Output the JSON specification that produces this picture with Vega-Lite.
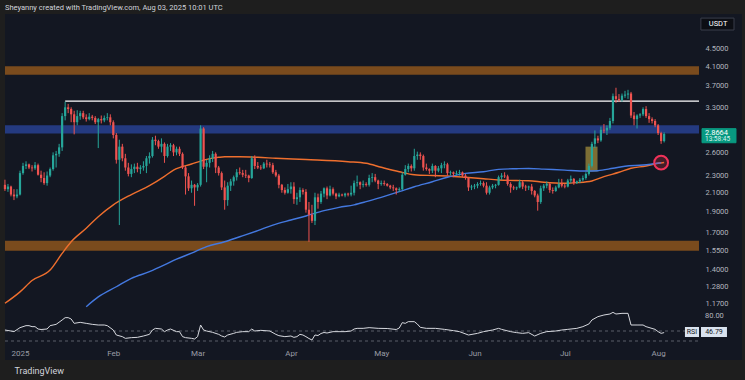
{
"$schema": "https://vega.github.io/schema/vega-lite/v6.json",
"width": 737, "height": 346,
"autosize": {"type": "none"},
"padding": {"left": 5, "top": 14, "right": 3, "bottom": 20},
"background": "#1e1e1e",
"config": {"view": {"fill": "#131722", "stroke": null}, "font": "Roboto"},
"title": {"text": "Sheyanny created with TradingView.com, Aug 03, 2025 10:01 UTC", "anchor": "start", "frame": "group", "orient": "top", "offset": 3, "dy": 8, "baseline": "bottom", "fontSize": 7.5, "fontWeight": "normal", "color": "#d1d4dc", "font": "Roboto"},
"datasets": {
"candles": [
{"d":"2024-12-27","o":2.19,"h":2.25,"l":2.12,"c":2.14},
{"d":"2024-12-28","o":2.14,"h":2.20,"l":2.11,"c":2.17},
{"d":"2024-12-29","o":2.17,"h":2.18,"l":2.06,"c":2.08},
{"d":"2024-12-30","o":2.08,"h":2.14,"l":2.02,"c":2.06},
{"d":"2024-12-31","o":2.06,"h":2.14,"l":2.04,"c":2.08},
{"d":"2025-01-01","o":2.08,"h":2.36,"l":2.07,"c":2.33},
{"d":"2025-01-02","o":2.33,"h":2.46,"l":2.31,"c":2.42},
{"d":"2025-01-03","o":2.42,"h":2.48,"l":2.38,"c":2.44},
{"d":"2025-01-04","o":2.44,"h":2.45,"l":2.38,"c":2.40},
{"d":"2025-01-05","o":2.40,"h":2.43,"l":2.35,"c":2.39},
{"d":"2025-01-06","o":2.39,"h":2.47,"l":2.37,"c":2.43},
{"d":"2025-01-07","o":2.43,"h":2.45,"l":2.30,"c":2.31},
{"d":"2025-01-08","o":2.31,"h":2.36,"l":2.22,"c":2.27},
{"d":"2025-01-09","o":2.27,"h":2.34,"l":2.19,"c":2.21},
{"d":"2025-01-10","o":2.21,"h":2.35,"l":2.18,"c":2.30},
{"d":"2025-01-11","o":2.30,"h":2.40,"l":2.28,"c":2.38},
{"d":"2025-01-12","o":2.38,"h":2.60,"l":2.36,"c":2.56},
{"d":"2025-01-13","o":2.56,"h":2.62,"l":2.40,"c":2.58},
{"d":"2025-01-14","o":2.58,"h":2.72,"l":2.54,"c":2.67},
{"d":"2025-01-15","o":2.67,"h":3.20,"l":2.62,"c":3.15},
{"d":"2025-01-16","o":3.15,"h":3.40,"l":3.08,"c":3.30},
{"d":"2025-01-17","o":3.30,"h":3.36,"l":3.20,"c":3.27},
{"d":"2025-01-18","o":3.27,"h":3.30,"l":3.05,"c":3.18},
{"d":"2025-01-19","o":3.18,"h":3.24,"l":2.86,"c":3.05},
{"d":"2025-01-20","o":3.05,"h":3.25,"l":3.00,"c":3.15},
{"d":"2025-01-21","o":3.15,"h":3.24,"l":3.09,"c":3.20},
{"d":"2025-01-22","o":3.20,"h":3.24,"l":3.10,"c":3.13},
{"d":"2025-01-23","o":3.13,"h":3.18,"l":3.06,"c":3.10},
{"d":"2025-01-24","o":3.10,"h":3.20,"l":3.08,"c":3.14},
{"d":"2025-01-25","o":3.14,"h":3.17,"l":3.08,"c":3.12},
{"d":"2025-01-26","o":3.12,"h":3.15,"l":3.02,"c":3.05},
{"d":"2025-01-27","o":3.05,"h":3.12,"l":2.66,"c":3.10},
{"d":"2025-01-28","o":3.10,"h":3.16,"l":3.03,"c":3.08},
{"d":"2025-01-29","o":3.08,"h":3.16,"l":3.05,"c":3.12},
{"d":"2025-01-30","o":3.12,"h":3.20,"l":3.08,"c":3.13},
{"d":"2025-01-31","o":3.13,"h":3.18,"l":3.00,"c":3.05},
{"d":"2025-02-01","o":3.05,"h":3.08,"l":2.80,"c":2.85},
{"d":"2025-02-02","o":2.85,"h":2.88,"l":2.45,"c":2.50},
{"d":"2025-02-03","o":2.50,"h":2.78,"l":1.77,"c":2.68},
{"d":"2025-02-04","o":2.68,"h":2.72,"l":2.48,"c":2.52},
{"d":"2025-02-05","o":2.52,"h":2.58,"l":2.36,"c":2.40},
{"d":"2025-02-06","o":2.40,"h":2.46,"l":2.29,"c":2.32},
{"d":"2025-02-07","o":2.32,"h":2.44,"l":2.28,"c":2.38},
{"d":"2025-02-08","o":2.38,"h":2.45,"l":2.33,"c":2.41},
{"d":"2025-02-09","o":2.41,"h":2.46,"l":2.34,"c":2.38},
{"d":"2025-02-10","o":2.38,"h":2.43,"l":2.32,"c":2.40},
{"d":"2025-02-11","o":2.40,"h":2.48,"l":2.36,"c":2.42},
{"d":"2025-02-12","o":2.42,"h":2.55,"l":2.33,"c":2.52},
{"d":"2025-02-13","o":2.52,"h":2.60,"l":2.45,"c":2.55},
{"d":"2025-02-14","o":2.55,"h":2.82,"l":2.53,"c":2.78},
{"d":"2025-02-15","o":2.78,"h":2.84,"l":2.70,"c":2.76},
{"d":"2025-02-16","o":2.76,"h":2.78,"l":2.65,"c":2.68},
{"d":"2025-02-17","o":2.68,"h":2.80,"l":2.60,"c":2.72},
{"d":"2025-02-18","o":2.72,"h":2.74,"l":2.46,"c":2.55},
{"d":"2025-02-19","o":2.55,"h":2.72,"l":2.53,"c":2.68},
{"d":"2025-02-20","o":2.68,"h":2.73,"l":2.62,"c":2.70},
{"d":"2025-02-21","o":2.70,"h":2.72,"l":2.55,"c":2.60},
{"d":"2025-02-22","o":2.60,"h":2.68,"l":2.56,"c":2.65},
{"d":"2025-02-23","o":2.65,"h":2.68,"l":2.55,"c":2.58},
{"d":"2025-02-24","o":2.58,"h":2.60,"l":2.38,"c":2.40},
{"d":"2025-02-25","o":2.40,"h":2.42,"l":2.08,"c":2.29},
{"d":"2025-02-26","o":2.29,"h":2.33,"l":2.12,"c":2.15},
{"d":"2025-02-27","o":2.15,"h":2.24,"l":2.10,"c":2.19},
{"d":"2025-02-28","o":2.19,"h":2.20,"l":1.96,"c":2.16},
{"d":"2025-03-01","o":2.16,"h":2.21,"l":2.12,"c":2.19},
{"d":"2025-03-02","o":2.19,"h":3.00,"l":2.17,"c":2.95},
{"d":"2025-03-03","o":2.95,"h":2.97,"l":2.38,"c":2.41},
{"d":"2025-03-04","o":2.41,"h":2.50,"l":2.22,"c":2.46},
{"d":"2025-03-05","o":2.46,"h":2.56,"l":2.40,"c":2.52},
{"d":"2025-03-06","o":2.52,"h":2.62,"l":2.47,"c":2.58},
{"d":"2025-03-07","o":2.58,"h":2.60,"l":2.33,"c":2.40},
{"d":"2025-03-08","o":2.40,"h":2.42,"l":2.30,"c":2.33},
{"d":"2025-03-09","o":2.33,"h":2.35,"l":2.13,"c":2.16},
{"d":"2025-03-10","o":2.16,"h":2.24,"l":1.92,"c":2.02},
{"d":"2025-03-11","o":2.02,"h":2.22,"l":1.96,"c":2.18},
{"d":"2025-03-12","o":2.18,"h":2.26,"l":2.12,"c":2.23},
{"d":"2025-03-13","o":2.23,"h":2.30,"l":2.18,"c":2.28},
{"d":"2025-03-14","o":2.28,"h":2.38,"l":2.24,"c":2.34},
{"d":"2025-03-15","o":2.34,"h":2.40,"l":2.31,"c":2.33},
{"d":"2025-03-16","o":2.33,"h":2.37,"l":2.28,"c":2.31},
{"d":"2025-03-17","o":2.31,"h":2.37,"l":2.27,"c":2.30},
{"d":"2025-03-18","o":2.30,"h":2.31,"l":2.22,"c":2.27},
{"d":"2025-03-19","o":2.27,"h":2.55,"l":2.26,"c":2.52},
{"d":"2025-03-20","o":2.52,"h":2.56,"l":2.38,"c":2.42},
{"d":"2025-03-21","o":2.42,"h":2.47,"l":2.38,"c":2.40},
{"d":"2025-03-22","o":2.40,"h":2.43,"l":2.37,"c":2.39},
{"d":"2025-03-23","o":2.39,"h":2.47,"l":2.38,"c":2.45},
{"d":"2025-03-24","o":2.45,"h":2.50,"l":2.40,"c":2.44},
{"d":"2025-03-25","o":2.44,"h":2.47,"l":2.40,"c":2.43},
{"d":"2025-03-26","o":2.43,"h":2.46,"l":2.32,"c":2.34},
{"d":"2025-03-27","o":2.34,"h":2.37,"l":2.28,"c":2.30},
{"d":"2025-03-28","o":2.30,"h":2.32,"l":2.15,"c":2.19},
{"d":"2025-03-29","o":2.19,"h":2.20,"l":2.10,"c":2.13},
{"d":"2025-03-30","o":2.13,"h":2.16,"l":2.08,"c":2.10},
{"d":"2025-03-31","o":2.10,"h":2.20,"l":2.09,"c":2.14},
{"d":"2025-04-01","o":2.14,"h":2.22,"l":2.09,"c":2.17},
{"d":"2025-04-02","o":2.17,"h":2.22,"l":1.98,"c":2.03},
{"d":"2025-04-03","o":2.03,"h":2.10,"l":1.97,"c":2.05},
{"d":"2025-04-04","o":2.05,"h":2.16,"l":2.00,"c":2.13},
{"d":"2025-04-05","o":2.13,"h":2.15,"l":2.08,"c":2.11},
{"d":"2025-04-06","o":2.11,"h":2.14,"l":1.89,"c":1.92},
{"d":"2025-04-07","o":1.92,"h":2.00,"l":1.62,"c":1.87},
{"d":"2025-04-08","o":1.87,"h":1.97,"l":1.79,"c":1.81},
{"d":"2025-04-09","o":1.81,"h":2.10,"l":1.77,"c":2.05},
{"d":"2025-04-10","o":2.05,"h":2.09,"l":1.93,"c":2.00},
{"d":"2025-04-11","o":2.00,"h":2.12,"l":1.98,"c":2.09},
{"d":"2025-04-12","o":2.09,"h":2.16,"l":2.05,"c":2.15},
{"d":"2025-04-13","o":2.15,"h":2.17,"l":2.03,"c":2.07},
{"d":"2025-04-14","o":2.07,"h":2.18,"l":2.06,"c":2.14},
{"d":"2025-04-15","o":2.14,"h":2.16,"l":2.07,"c":2.09},
{"d":"2025-04-16","o":2.09,"h":2.10,"l":2.03,"c":2.06},
{"d":"2025-04-17","o":2.06,"h":2.10,"l":2.05,"c":2.08},
{"d":"2025-04-18","o":2.08,"h":2.09,"l":2.06,"c":2.07},
{"d":"2025-04-19","o":2.07,"h":2.10,"l":2.05,"c":2.09},
{"d":"2025-04-20","o":2.09,"h":2.10,"l":2.06,"c":2.08},
{"d":"2025-04-21","o":2.08,"h":2.18,"l":2.06,"c":2.10},
{"d":"2025-04-22","o":2.10,"h":2.24,"l":2.07,"c":2.21},
{"d":"2025-04-23","o":2.21,"h":2.30,"l":2.17,"c":2.22},
{"d":"2025-04-24","o":2.22,"h":2.23,"l":2.14,"c":2.19},
{"d":"2025-04-25","o":2.19,"h":2.24,"l":2.16,"c":2.20},
{"d":"2025-04-26","o":2.20,"h":2.22,"l":2.17,"c":2.19},
{"d":"2025-04-27","o":2.19,"h":2.31,"l":2.17,"c":2.27},
{"d":"2025-04-28","o":2.27,"h":2.33,"l":2.22,"c":2.28},
{"d":"2025-04-29","o":2.28,"h":2.32,"l":2.22,"c":2.24},
{"d":"2025-04-30","o":2.24,"h":2.25,"l":2.14,"c":2.20},
{"d":"2025-05-01","o":2.20,"h":2.24,"l":2.18,"c":2.21},
{"d":"2025-05-02","o":2.21,"h":2.24,"l":2.18,"c":2.20},
{"d":"2025-05-03","o":2.20,"h":2.21,"l":2.17,"c":2.18},
{"d":"2025-05-04","o":2.18,"h":2.19,"l":2.14,"c":2.16},
{"d":"2025-05-05","o":2.16,"h":2.19,"l":2.12,"c":2.15},
{"d":"2025-05-06","o":2.15,"h":2.16,"l":2.08,"c":2.13},
{"d":"2025-05-07","o":2.13,"h":2.16,"l":2.11,"c":2.14},
{"d":"2025-05-08","o":2.14,"h":2.34,"l":2.13,"c":2.31},
{"d":"2025-05-09","o":2.31,"h":2.43,"l":2.30,"c":2.38},
{"d":"2025-05-10","o":2.38,"h":2.45,"l":2.34,"c":2.42},
{"d":"2025-05-11","o":2.42,"h":2.44,"l":2.35,"c":2.39},
{"d":"2025-05-12","o":2.39,"h":2.65,"l":2.36,"c":2.55},
{"d":"2025-05-13","o":2.55,"h":2.61,"l":2.50,"c":2.57},
{"d":"2025-05-14","o":2.57,"h":2.60,"l":2.50,"c":2.55},
{"d":"2025-05-15","o":2.55,"h":2.57,"l":2.36,"c":2.40},
{"d":"2025-05-16","o":2.40,"h":2.45,"l":2.36,"c":2.38},
{"d":"2025-05-17","o":2.38,"h":2.39,"l":2.32,"c":2.36},
{"d":"2025-05-18","o":2.36,"h":2.45,"l":2.33,"c":2.42},
{"d":"2025-05-19","o":2.42,"h":2.43,"l":2.28,"c":2.36},
{"d":"2025-05-20","o":2.36,"h":2.42,"l":2.34,"c":2.39},
{"d":"2025-05-21","o":2.39,"h":2.46,"l":2.33,"c":2.43},
{"d":"2025-05-22","o":2.43,"h":2.48,"l":2.39,"c":2.44},
{"d":"2025-05-23","o":2.44,"h":2.46,"l":2.30,"c":2.33},
{"d":"2025-05-24","o":2.33,"h":2.36,"l":2.30,"c":2.34},
{"d":"2025-05-25","o":2.34,"h":2.35,"l":2.28,"c":2.32},
{"d":"2025-05-26","o":2.32,"h":2.36,"l":2.30,"c":2.33},
{"d":"2025-05-27","o":2.33,"h":2.37,"l":2.30,"c":2.34},
{"d":"2025-05-28","o":2.34,"h":2.35,"l":2.28,"c":2.30},
{"d":"2025-05-29","o":2.30,"h":2.32,"l":2.25,"c":2.27},
{"d":"2025-05-30","o":2.27,"h":2.28,"l":2.12,"c":2.16},
{"d":"2025-05-31","o":2.16,"h":2.19,"l":2.13,"c":2.17},
{"d":"2025-06-01","o":2.17,"h":2.20,"l":2.14,"c":2.18},
{"d":"2025-06-02","o":2.18,"h":2.22,"l":2.15,"c":2.20},
{"d":"2025-06-03","o":2.20,"h":2.24,"l":2.18,"c":2.21},
{"d":"2025-06-04","o":2.21,"h":2.23,"l":2.16,"c":2.18},
{"d":"2025-06-05","o":2.18,"h":2.22,"l":2.08,"c":2.10},
{"d":"2025-06-06","o":2.10,"h":2.18,"l":2.08,"c":2.16},
{"d":"2025-06-07","o":2.16,"h":2.20,"l":2.14,"c":2.18},
{"d":"2025-06-08","o":2.18,"h":2.20,"l":2.15,"c":2.19},
{"d":"2025-06-09","o":2.19,"h":2.30,"l":2.18,"c":2.28},
{"d":"2025-06-10","o":2.28,"h":2.33,"l":2.25,"c":2.30},
{"d":"2025-06-11","o":2.30,"h":2.34,"l":2.27,"c":2.29},
{"d":"2025-06-12","o":2.29,"h":2.31,"l":2.18,"c":2.20},
{"d":"2025-06-13","o":2.20,"h":2.22,"l":2.10,"c":2.16},
{"d":"2025-06-14","o":2.16,"h":2.18,"l":2.13,"c":2.15},
{"d":"2025-06-15","o":2.15,"h":2.17,"l":2.13,"c":2.16},
{"d":"2025-06-16","o":2.16,"h":2.25,"l":2.15,"c":2.22},
{"d":"2025-06-17","o":2.22,"h":2.24,"l":2.14,"c":2.17},
{"d":"2025-06-18","o":2.17,"h":2.19,"l":2.12,"c":2.16},
{"d":"2025-06-19","o":2.16,"h":2.18,"l":2.13,"c":2.17},
{"d":"2025-06-20","o":2.17,"h":2.20,"l":2.08,"c":2.12},
{"d":"2025-06-21","o":2.12,"h":2.13,"l":2.05,"c":2.07},
{"d":"2025-06-22","o":2.07,"h":2.09,"l":1.91,"c":2.00},
{"d":"2025-06-23","o":2.00,"h":2.18,"l":1.98,"c":2.15},
{"d":"2025-06-24","o":2.15,"h":2.20,"l":2.12,"c":2.18},
{"d":"2025-06-25","o":2.18,"h":2.23,"l":2.15,"c":2.20},
{"d":"2025-06-26","o":2.20,"h":2.21,"l":2.10,"c":2.13},
{"d":"2025-06-27","o":2.13,"h":2.16,"l":2.09,"c":2.12},
{"d":"2025-06-28","o":2.12,"h":2.18,"l":2.11,"c":2.16},
{"d":"2025-06-29","o":2.16,"h":2.26,"l":2.15,"c":2.20},
{"d":"2025-06-30","o":2.20,"h":2.26,"l":2.16,"c":2.18},
{"d":"2025-07-01","o":2.18,"h":2.20,"l":2.15,"c":2.17},
{"d":"2025-07-02","o":2.17,"h":2.26,"l":2.16,"c":2.24},
{"d":"2025-07-03","o":2.24,"h":2.30,"l":2.21,"c":2.26},
{"d":"2025-07-04","o":2.26,"h":2.27,"l":2.19,"c":2.21},
{"d":"2025-07-05","o":2.21,"h":2.24,"l":2.20,"c":2.23},
{"d":"2025-07-06","o":2.23,"h":2.27,"l":2.21,"c":2.25},
{"d":"2025-07-07","o":2.25,"h":2.30,"l":2.23,"c":2.27},
{"d":"2025-07-08","o":2.27,"h":2.34,"l":2.25,"c":2.32},
{"d":"2025-07-09","o":2.32,"h":2.45,"l":2.30,"c":2.42},
{"d":"2025-07-10","o":2.42,"h":2.75,"l":2.40,"c":2.72},
{"d":"2025-07-11","o":2.72,"h":2.92,"l":2.66,"c":2.80},
{"d":"2025-07-12","o":2.80,"h":2.84,"l":2.73,"c":2.77},
{"d":"2025-07-13","o":2.77,"h":2.98,"l":2.75,"c":2.93},
{"d":"2025-07-14","o":2.93,"h":3.02,"l":2.88,"c":2.92},
{"d":"2025-07-15","o":2.92,"h":3.00,"l":2.85,"c":2.96},
{"d":"2025-07-16","o":2.96,"h":3.12,"l":2.93,"c":3.07},
{"d":"2025-07-17","o":3.07,"h":3.55,"l":3.03,"c":3.50},
{"d":"2025-07-18","o":3.50,"h":3.66,"l":3.38,"c":3.45},
{"d":"2025-07-19","o":3.45,"h":3.54,"l":3.40,"c":3.43},
{"d":"2025-07-20","o":3.43,"h":3.55,"l":3.40,"c":3.51},
{"d":"2025-07-21","o":3.51,"h":3.60,"l":3.47,"c":3.53},
{"d":"2025-07-22","o":3.53,"h":3.62,"l":3.45,"c":3.55},
{"d":"2025-07-23","o":3.55,"h":3.58,"l":3.12,"c":3.16},
{"d":"2025-07-24","o":3.16,"h":3.22,"l":3.00,"c":3.10},
{"d":"2025-07-25","o":3.10,"h":3.18,"l":2.95,"c":3.16},
{"d":"2025-07-26","o":3.16,"h":3.20,"l":3.12,"c":3.18},
{"d":"2025-07-27","o":3.18,"h":3.30,"l":3.15,"c":3.27},
{"d":"2025-07-28","o":3.27,"h":3.32,"l":3.12,"c":3.15},
{"d":"2025-07-29","o":3.15,"h":3.20,"l":3.04,"c":3.10},
{"d":"2025-07-30","o":3.10,"h":3.13,"l":3.03,"c":3.07},
{"d":"2025-07-31","o":3.07,"h":3.10,"l":2.97,"c":3.00},
{"d":"2025-08-01","o":3.00,"h":3.02,"l":2.85,"c":2.88},
{"d":"2025-08-02","o":2.88,"h":2.90,"l":2.72,"c":2.76},
{"d":"2025-08-03","o":2.76,"h":2.89,"l":2.74,"c":2.8664}
],
"ma100": [
{"d":"2024-12-27","v":1.17},{"d":"2025-01-01","v":1.243},{"d":"2025-01-05","v":1.32},{"d":"2025-01-11","v":1.395},
{"d":"2025-01-15","v":1.524},{"d":"2025-01-18","v":1.62},{"d":"2025-01-23","v":1.74},{"d":"2025-01-27","v":1.85},
{"d":"2025-02-01","v":1.97},{"d":"2025-02-07","v":2.08},{"d":"2025-02-13","v":2.18},{"d":"2025-02-18","v":2.29},
{"d":"2025-02-21","v":2.368},{"d":"2025-02-27","v":2.445},{"d":"2025-03-04","v":2.506},{"d":"2025-03-08","v":2.533},
{"d":"2025-03-10","v":2.54},{"d":"2025-03-15","v":2.54},{"d":"2025-03-21","v":2.533},{"d":"2025-03-27","v":2.52},
{"d":"2025-04-06","v":2.503},{"d":"2025-04-20","v":2.475},{"d":"2025-04-26","v":2.454},{"d":"2025-05-01","v":2.403},
{"d":"2025-05-07","v":2.347},{"d":"2025-05-12","v":2.31},{"d":"2025-05-18","v":2.30},{"d":"2025-05-23","v":2.295},
{"d":"2025-05-29","v":2.28},{"d":"2025-06-04","v":2.262},{"d":"2025-06-09","v":2.247},{"d":"2025-06-15","v":2.24},
{"d":"2025-06-19","v":2.238},{"d":"2025-06-24","v":2.22},{"d":"2025-07-01","v":2.208},{"d":"2025-07-05","v":2.215},
{"d":"2025-07-10","v":2.235},{"d":"2025-07-14","v":2.286},{"d":"2025-07-19","v":2.34},{"d":"2025-07-23","v":2.39},
{"d":"2025-07-28","v":2.419},{"d":"2025-08-01","v":2.454},{"d":"2025-08-03","v":2.465}
],
"ma200": [
{"d":"2025-01-23","v":1.149},{"d":"2025-01-27","v":1.21},{"d":"2025-02-02","v":1.277},{"d":"2025-02-07","v":1.335},
{"d":"2025-02-13","v":1.383},{"d":"2025-02-18","v":1.433},{"d":"2025-02-22","v":1.478},{"d":"2025-02-27","v":1.525},
{"d":"2025-03-04","v":1.579},{"d":"2025-03-10","v":1.62},{"d":"2025-03-15","v":1.664},{"d":"2025-03-21","v":1.718},
{"d":"2025-03-26","v":1.77},{"d":"2025-04-01","v":1.818},{"d":"2025-04-06","v":1.857},{"d":"2025-04-12","v":1.91},
{"d":"2025-04-17","v":1.944},{"d":"2025-04-22","v":1.97},{"d":"2025-04-26","v":2.003},{"d":"2025-05-01","v":2.05},
{"d":"2025-05-07","v":2.112},{"d":"2025-05-12","v":2.168},{"d":"2025-05-18","v":2.226},{"d":"2025-05-23","v":2.279},
{"d":"2025-05-29","v":2.327},{"d":"2025-06-04","v":2.347},{"d":"2025-06-09","v":2.377},{"d":"2025-06-15","v":2.385},
{"d":"2025-06-19","v":2.388},{"d":"2025-06-24","v":2.38},{"d":"2025-07-01","v":2.367},{"d":"2025-07-08","v":2.356},
{"d":"2025-07-12","v":2.36},{"d":"2025-07-17","v":2.39},{"d":"2025-07-21","v":2.416},{"d":"2025-07-27","v":2.432},
{"d":"2025-08-02","v":2.462}
],
"rsi": [
{"d":"2024-12-27","r":52},{"d":"2024-12-29","r":50},{"d":"2024-12-30","r":48.7},{"d":"2025-01-01","r":56.7},
{"d":"2025-01-03","r":60.7},{"d":"2025-01-04","r":60.7},{"d":"2025-01-05","r":58.7},{"d":"2025-01-06","r":58.7},
{"d":"2025-01-07","r":54},{"d":"2025-01-08","r":53},{"d":"2025-01-10","r":54},{"d":"2025-01-11","r":60.7},
{"d":"2025-01-12","r":62},{"d":"2025-01-13","r":63.3},{"d":"2025-01-15","r":72},{"d":"2025-01-16","r":76.7},
{"d":"2025-01-17","r":76.7},{"d":"2025-01-18","r":74},{"d":"2025-01-19","r":65.3},{"d":"2025-01-21","r":67.3},
{"d":"2025-01-23","r":65.3},{"d":"2025-01-25","r":63.3},{"d":"2025-01-27","r":62},{"d":"2025-01-29","r":62},
{"d":"2025-01-30","r":60.7},{"d":"2025-02-01","r":52},{"d":"2025-02-02","r":42},{"d":"2025-02-04","r":38.7},
{"d":"2025-02-05","r":35.3},{"d":"2025-02-07","r":36.7},{"d":"2025-02-09","r":37.3},{"d":"2025-02-11","r":40},
{"d":"2025-02-13","r":43.3},{"d":"2025-02-14","r":52},{"d":"2025-02-15","r":55.3},{"d":"2025-02-17","r":54},
{"d":"2025-02-18","r":48.7},{"d":"2025-02-19","r":52},{"d":"2025-02-20","r":54},{"d":"2025-02-22","r":48.7},
{"d":"2025-02-23","r":48.7},{"d":"2025-02-24","r":38.7},{"d":"2025-02-25","r":36.7},{"d":"2025-02-27","r":35.3},
{"d":"2025-02-28","r":34},{"d":"2025-03-01","r":38.7},{"d":"2025-03-02","r":62},{"d":"2025-03-03","r":52},
{"d":"2025-03-04","r":50},{"d":"2025-03-06","r":47.3},{"d":"2025-03-08","r":43.3},{"d":"2025-03-09","r":40},
{"d":"2025-03-10","r":38},{"d":"2025-03-11","r":42},{"d":"2025-03-13","r":45.3},{"d":"2025-03-14","r":47.3},
{"d":"2025-03-16","r":48.7},{"d":"2025-03-18","r":48.7},{"d":"2025-03-19","r":54},{"d":"2025-03-20","r":50},
{"d":"2025-03-22","r":51.3},{"d":"2025-03-25","r":50},{"d":"2025-03-27","r":43.3},{"d":"2025-03-28","r":40.7},
{"d":"2025-03-30","r":38.7},{"d":"2025-04-01","r":40},{"d":"2025-04-02","r":37.3},{"d":"2025-04-03","r":38.7},
{"d":"2025-04-04","r":43.3},{"d":"2025-04-05","r":42},{"d":"2025-04-06","r":38.7},{"d":"2025-04-07","r":35},
{"d":"2025-04-08","r":32},{"d":"2025-04-09","r":42},{"d":"2025-04-10","r":41},{"d":"2025-04-11","r":45},
{"d":"2025-04-12","r":47},{"d":"2025-04-13","r":46},{"d":"2025-04-14","r":47.3},{"d":"2025-04-15","r":48.7},
{"d":"2025-04-17","r":48.7},{"d":"2025-04-19","r":48.7},{"d":"2025-04-21","r":50},{"d":"2025-04-22","r":54},
{"d":"2025-04-23","r":55.3},{"d":"2025-04-25","r":55.3},{"d":"2025-04-27","r":56.7},{"d":"2025-04-30","r":55.3},
{"d":"2025-05-03","r":55},{"d":"2025-05-06","r":53},{"d":"2025-05-07","r":56},{"d":"2025-05-08","r":66.7},
{"d":"2025-05-09","r":65.3},{"d":"2025-05-10","r":68.7},{"d":"2025-05-12","r":68.7},{"d":"2025-05-13","r":64},
{"d":"2025-05-14","r":57.3},{"d":"2025-05-16","r":55.3},{"d":"2025-05-19","r":55.3},{"d":"2025-05-22","r":53.3},
{"d":"2025-05-25","r":50.7},{"d":"2025-05-27","r":48.7},{"d":"2025-05-30","r":42},{"d":"2025-06-02","r":45.3},
{"d":"2025-06-04","r":48.7},{"d":"2025-06-07","r":52},{"d":"2025-06-09","r":55.3},{"d":"2025-06-10","r":53.3},
{"d":"2025-06-13","r":48.7},{"d":"2025-06-15","r":46.7},{"d":"2025-06-17","r":45.3},{"d":"2025-06-19","r":46.7},
{"d":"2025-06-21","r":40},{"d":"2025-06-23","r":45.3},{"d":"2025-06-25","r":48.7},{"d":"2025-06-28","r":50},
{"d":"2025-06-30","r":52},{"d":"2025-07-02","r":53.3},{"d":"2025-07-05","r":55.3},{"d":"2025-07-07","r":58.7},
{"d":"2025-07-09","r":64},{"d":"2025-07-10","r":72},{"d":"2025-07-12","r":78.7},{"d":"2025-07-14","r":82},
{"d":"2025-07-16","r":84},{"d":"2025-07-17","r":87.3},{"d":"2025-07-18","r":84},{"d":"2025-07-20","r":85.3},
{"d":"2025-07-22","r":85.3},{"d":"2025-07-23","r":62},{"d":"2025-07-25","r":62},{"d":"2025-07-27","r":62},
{"d":"2025-07-28","r":58.7},{"d":"2025-07-31","r":53.3},{"d":"2025-08-01","r":48.7},{"d":"2025-08-02","r":45.3},
{"d":"2025-08-03","r":46.79}
]
},
"encoding": {
"x": {"field": "d", "type": "temporal", "title": "TradingView",
"scale": {"type": "utc", "nice": false, "domain": [{"year":2024,"month":12,"date":27,"hours":0,"minutes":24,"utc":true},{"year":2025,"month":8,"date":28,"hours":20,"minutes":53,"utc":true}]},
"axis": {"orient": "bottom", "offset": -14, "domain": false, "ticks": false, "grid": false,
"values": [{"year":2025,"month":1,"date":1,"utc":true},{"year":2025,"month":2,"date":1,"utc":true},{"year":2025,"month":3,"date":1,"utc":true},{"year":2025,"month":4,"date":1,"utc":true},{"year":2025,"month":5,"date":1,"utc":true},{"year":2025,"month":6,"date":1,"utc":true},{"year":2025,"month":7,"date":1,"utc":true},{"year":2025,"month":8,"date":1,"utc":true}],
"labelExpr": "utcmonth(datum.value) == 0 ? '2025' : utcFormat(datum.value, '%b')",
"labelFontSize": 8, "labelColor": "#9a9da6", "labelPadding": 3, "labelOverlap": false, "labelFlush": false, "labelFont": "Roboto",
"title": "TradingView", "titleAnchor": "start", "titleAlign": "left", "titleX": 9, "titleY": 24, "titleBaseline": "middle", "titleFontSize": 9, "titleColor": "#d1d4dc", "titleFontWeight": "normal", "titleFont": "Roboto"}}
},
"layer": [
{
"layer": [
{
"data": {"values": [
{"zone":"supply","d":"2024-12-27T00:24:00Z","e":"2025-08-14T14:00:00Z","lo":3.92,"hi":4.10},
{"zone":"pivot","d":"2024-12-27T00:24:00Z","e":"2025-08-14T14:00:00Z","lo":2.875,"hi":3.0},
{"zone":"demand","d":"2024-12-27T00:24:00Z","e":"2025-08-14T14:00:00Z","lo":1.545,"hi":1.63}
]},
"mark": {"type": "rect"},
"encoding": {
"x2": {"field": "e"},
"y": {"field": "lo", "type": "quantitative", "title": null, "scale": {"type": "log", "domain": [0.86674, 5.4069], "nice": false, "zero": false},
"axis": {"orient": "right", "offset": -40, "domain": false, "ticks": false, "grid": false, "values": [4.5, 4.1, 3.7, 3.3, 2.6, 2.3, 2.1, 1.9, 1.7, 1.55, 1.4, 1.28, 1.17], "format": ".4f", "labelFontSize": 7.5, "labelColor": "#b2b5be", "labelPadding": 3, "labelOverlap": false, "labelFlush": false, "labelBound": false, "labelFont": "Roboto", "title": null}},
"y2": {"field": "hi"},
"color": {"field": "zone", "type": "nominal", "scale": {"domain": ["supply", "pivot", "demand"], "range": ["#7a4b1d", "#243a80", "#7a4b1d"]}, "legend": null}
}
},
{
"data": {"values": [{"d":"2025-07-07T21:00:00Z","e":"2025-07-11T21:00:00Z","lo":2.35,"hi":2.68}]},
"mark": {"type": "rect", "color": "#a08c3c", "opacity": 0.75},
"encoding": {
"x2": {"field": "e"},
"y": {"field": "lo", "type": "quantitative", "title": null, "scale": {"type": "log", "domain": [0.86674, 5.4069], "nice": false, "zero": false},
"axis": {"orient": "right", "offset": -40, "domain": false, "ticks": false, "grid": false, "values": [4.5, 4.1, 3.7, 3.3, 2.6, 2.3, 2.1, 1.9, 1.7, 1.55, 1.4, 1.28, 1.17], "format": ".4f", "labelFontSize": 7.5, "labelColor": "#b2b5be", "labelPadding": 3, "labelOverlap": false, "labelFlush": false, "labelBound": false, "labelFont": "Roboto", "title": null}},
"y2": {"field": "hi"}
}
},
{
"data": {"values": [{"d":"2025-01-16T00:00:00Z","e":"2025-08-14T14:00:00Z","v":3.41}]},
"mark": {"type": "rule", "color": "#ffffff", "strokeWidth": 1.3},
"encoding": {
"x2": {"field": "e"},
"y": {"field": "v", "type": "quantitative", "title": null, "scale": {"type": "log", "domain": [0.86674, 5.4069], "nice": false, "zero": false},
"axis": {"orient": "right", "offset": -40, "domain": false, "ticks": false, "grid": false, "values": [4.5, 4.1, 3.7, 3.3, 2.6, 2.3, 2.1, 1.9, 1.7, 1.55, 1.4, 1.28, 1.17], "format": ".4f", "labelFontSize": 7.5, "labelColor": "#b2b5be", "labelPadding": 3, "labelOverlap": false, "labelFlush": false, "labelBound": false, "labelFont": "Roboto", "title": null}}
}
},
{
"data": {"name": "ma100"},
"mark": {"type": "line", "color": "#ef6f2e", "strokeWidth": 1.4, "interpolate": "monotone"},
"encoding": {
"y": {"field": "v", "type": "quantitative", "title": null, "scale": {"type": "log", "domain": [0.86674, 5.4069], "nice": false, "zero": false},
"axis": {"orient": "right", "offset": -40, "domain": false, "ticks": false, "grid": false, "values": [4.5, 4.1, 3.7, 3.3, 2.6, 2.3, 2.1, 1.9, 1.7, 1.55, 1.4, 1.28, 1.17], "format": ".4f", "labelFontSize": 7.5, "labelColor": "#b2b5be", "labelPadding": 3, "labelOverlap": false, "labelFlush": false, "labelBound": false, "labelFont": "Roboto", "title": null}}
}
},
{
"data": {"name": "ma200"},
"mark": {"type": "line", "color": "#4479e0", "strokeWidth": 1.4, "interpolate": "monotone"},
"encoding": {
"y": {"field": "v", "type": "quantitative", "title": null, "scale": {"type": "log", "domain": [0.86674, 5.4069], "nice": false, "zero": false},
"axis": {"orient": "right", "offset": -40, "domain": false, "ticks": false, "grid": false, "values": [4.5, 4.1, 3.7, 3.3, 2.6, 2.3, 2.1, 1.9, 1.7, 1.55, 1.4, 1.28, 1.17], "format": ".4f", "labelFontSize": 7.5, "labelColor": "#b2b5be", "labelPadding": 3, "labelOverlap": false, "labelFlush": false, "labelBound": false, "labelFont": "Roboto", "title": null}}
}
},
{
"data": {"name": "candles"},
"mark": {"type": "rule", "strokeWidth": 1},
"encoding": {
"y": {"field": "l", "type": "quantitative", "title": null, "scale": {"type": "log", "domain": [0.86674, 5.4069], "nice": false, "zero": false},
"axis": {"orient": "right", "offset": -40, "domain": false, "ticks": false, "grid": false, "values": [4.5, 4.1, 3.7, 3.3, 2.6, 2.3, 2.1, 1.9, 1.7, 1.55, 1.4, 1.28, 1.17], "format": ".4f", "labelFontSize": 7.5, "labelColor": "#b2b5be", "labelPadding": 3, "labelOverlap": false, "labelFlush": false, "labelBound": false, "labelFont": "Roboto", "title": null}},
"y2": {"field": "h"},
"color": {"condition": {"test": "datum.c >= datum.o", "value": "#26a69a"}, "value": "#ef5350"}
}
},
{
"data": {"name": "candles"},
"mark": {"type": "rule", "strokeWidth": 2.2},
"encoding": {
"y": {"field": "o", "type": "quantitative", "title": null, "scale": {"type": "log", "domain": [0.86674, 5.4069], "nice": false, "zero": false},
"axis": {"orient": "right", "offset": -40, "domain": false, "ticks": false, "grid": false, "values": [4.5, 4.1, 3.7, 3.3, 2.6, 2.3, 2.1, 1.9, 1.7, 1.55, 1.4, 1.28, 1.17], "format": ".4f", "labelFontSize": 7.5, "labelColor": "#b2b5be", "labelPadding": 3, "labelOverlap": false, "labelFlush": false, "labelBound": false, "labelFont": "Roboto", "title": null}},
"y2": {"field": "c"},
"color": {"condition": {"test": "datum.c >= datum.o", "value": "#26a69a"}, "value": "#ef5350"}
}
},
{
"data": {"values": [{"d":"2025-08-02","v":2.462}]},
"mark": {"type": "circle", "size": 190, "fill": "#f23645", "fillOpacity": 0.22, "stroke": "#f0325a", "strokeWidth": 2, "opacity": 1},
"encoding": {
"y": {"field": "v", "type": "quantitative", "title": null, "scale": {"type": "log", "domain": [0.86674, 5.4069], "nice": false, "zero": false},
"axis": {"orient": "right", "offset": -40, "domain": false, "ticks": false, "grid": false, "values": [4.5, 4.1, 3.7, 3.3, 2.6, 2.3, 2.1, 1.9, 1.7, 1.55, 1.4, 1.28, 1.17], "format": ".4f", "labelFontSize": 7.5, "labelColor": "#b2b5be", "labelPadding": 3, "labelOverlap": false, "labelFlush": false, "labelBound": false, "labelFont": "Roboto", "title": null}}
}
},
{
"data": {"values": [
{"k":"price","d":"2025-08-15T14:00:00Z","e":"2025-08-26T21:00:00Z","lo":2.736,"hi":2.948},
{"k":"unit","d":"2025-08-15T05:00:00Z","e":"2025-08-26T05:00:00Z","lo":4.968,"hi":5.291}
]},
"mark": {"type": "rect", "strokeWidth": 1},
"encoding": {
"x2": {"field": "e"},
"y": {"field": "lo", "type": "quantitative", "title": null, "scale": {"type": "log", "domain": [0.86674, 5.4069], "nice": false, "zero": false},
"axis": {"orient": "right", "offset": -40, "domain": false, "ticks": false, "grid": false, "values": [4.5, 4.1, 3.7, 3.3, 2.6, 2.3, 2.1, 1.9, 1.7, 1.55, 1.4, 1.28, 1.17], "format": ".4f", "labelFontSize": 7.5, "labelColor": "#b2b5be", "labelPadding": 3, "labelOverlap": false, "labelFlush": false, "labelBound": false, "labelFont": "Roboto", "title": null}},
"y2": {"field": "hi"},
"fill": {"field": "k", "type": "nominal", "scale": {"domain": ["price", "unit"], "range": ["#089981", "#0c0e14"]}, "legend": null},
"stroke": {"field": "k", "type": "nominal", "scale": {"domain": ["price", "unit"], "range": ["#089981", "#3a3e4a"]}, "legend": null}
}
},
{
"data": {"values": [
{"t":"2.8664","d":"2025-08-16T13:40:00Z","v":2.888},
{"t":"USDT","d":"2025-08-17T20:00:00Z","v":5.128}
]},
"mark": {"type": "text", "align": "left", "baseline": "middle", "fontSize": 7.5, "font": "Roboto", "color": "#ffffff"},
"encoding": {
"y": {"field": "v", "type": "quantitative", "title": null, "scale": {"type": "log", "domain": [0.86674, 5.4069], "nice": false, "zero": false},
"axis": {"orient": "right", "offset": -40, "domain": false, "ticks": false, "grid": false, "values": [4.5, 4.1, 3.7, 3.3, 2.6, 2.3, 2.1, 1.9, 1.7, 1.55, 1.4, 1.28, 1.17], "format": ".4f", "labelFontSize": 7.5, "labelColor": "#b2b5be", "labelPadding": 3, "labelOverlap": false, "labelFlush": false, "labelBound": false, "labelFont": "Roboto", "title": null}},
"text": {"field": "t"}
}
},
{
"data": {"values": [{"t":"13:58:45","d":"2025-08-16T13:40:00Z","v":2.79}]},
"mark": {"type": "text", "align": "left", "baseline": "middle", "fontSize": 6.5, "font": "Roboto", "color": "#d8f3ee"},
"encoding": {
"y": {"field": "v", "type": "quantitative", "title": null, "scale": {"type": "log", "domain": [0.86674, 5.4069], "nice": false, "zero": false},
"axis": {"orient": "right", "offset": -40, "domain": false, "ticks": false, "grid": false, "values": [4.5, 4.1, 3.7, 3.3, 2.6, 2.3, 2.1, 1.9, 1.7, 1.55, 1.4, 1.28, 1.17], "format": ".4f", "labelFontSize": 7.5, "labelColor": "#b2b5be", "labelPadding": 3, "labelOverlap": false, "labelFlush": false, "labelBound": false, "labelFont": "Roboto", "title": null}},
"text": {"field": "t"}
}
}
]
},
{
"layer": [
{
"data": {"values": [
{"d":"2024-12-27T00:24:00Z","e":"2025-08-14T14:00:00Z","r":50},
{"d":"2024-12-27T00:24:00Z","e":"2025-08-14T14:00:00Z","r":30}
]},
"mark": {"type": "rule", "color": "#5b5e69", "strokeDash": [3, 3], "strokeWidth": 1},
"encoding": {
"x2": {"field": "e"},
"y": {"field": "r", "type": "quantitative", "scale": {"domain": [-8, 684], "nice": false, "zero": false}, "axis": null}
}
},
{
"data": {"name": "rsi"},
"mark": {"type": "line", "color": "#d6d8de", "strokeWidth": 1},
"encoding": {
"y": {"field": "r", "type": "quantitative", "scale": {"domain": [-8, 684], "nice": false, "zero": false}, "axis": null}
}
},
{
"data": {"values": [
{"d":"2025-08-09T22:00:00Z","e":"2025-08-14T14:00:00Z","lo":38,"hi":58},
{"d":"2025-08-15T06:00:00Z","e":"2025-08-23T21:00:00Z","lo":38,"hi":58}
]},
"mark": {"type": "rect", "color": "#d9e2ee"},
"encoding": {
"x2": {"field": "e"},
"y": {"field": "lo", "type": "quantitative", "scale": {"domain": [-8, 684], "nice": false, "zero": false}, "axis": null},
"y2": {"field": "hi"}
}
},
{
"data": {"values": [
{"t":"RSI","d":"2025-08-12T06:00:00Z","r":47.7},
{"t":"46.79","d":"2025-08-19T13:30:00Z","r":47.7}
]},
"mark": {"type": "text", "align": "center", "baseline": "middle", "fontSize": 7, "font": "Roboto", "color": "#131722"},
"encoding": {
"y": {"field": "r", "type": "quantitative", "scale": {"domain": [-8, 684], "nice": false, "zero": false}, "axis": null},
"text": {"field": "t"}
}
},
{
"data": {"values": [{"t":"80.00","d":"2025-08-16T13:40:00Z","r":80}]},
"mark": {"type": "text", "align": "left", "baseline": "middle", "fontSize": 7.5, "font": "Roboto", "color": "#b2b5be"},
"encoding": {
"y": {"field": "r", "type": "quantitative", "scale": {"domain": [-8, 684], "nice": false, "zero": false}, "axis": null},
"text": {"field": "t"}
}
}
]
}
],
"resolve": {"scale": {"y": "independent"}}
}
